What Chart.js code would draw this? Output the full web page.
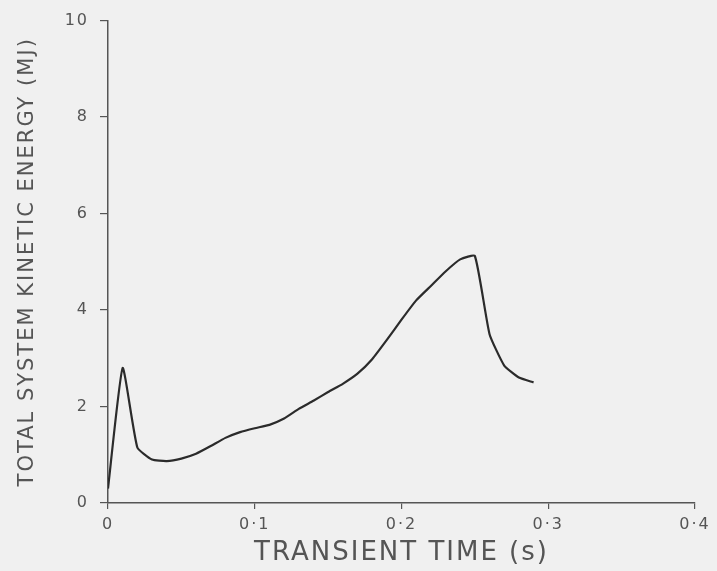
<!DOCTYPE html>
<html>
<head>
<meta charset="utf-8">
<script src="https://cdn.jsdelivr.net/npm/chart.js@4/dist/chart.umd.min.js"></script>
<style>
  html, body { margin: 0; padding: 0; background: #f0f0f0; }
  #wrap { width: 717px; height: 571px; }
</style>
</head>
<body>
<div id="wrap"><canvas id="energy"></canvas></div>
<script>
// transient time (s) and total kinetic energy (MJ)
const times = [0, 0.01, 0.02, 0.03, 0.04, 0.05, 0.06, 0.07, 0.08, 0.09,
               0.10, 0.11, 0.12, 0.13, 0.14, 0.15, 0.16, 0.17, 0.18, 0.19,
               0.20, 0.21, 0.22, 0.23, 0.24, 0.25, 0.26, 0.27, 0.28, 0.29];
const energy = [0.3, 2.8, 1.15, 0.9, 0.87, 0.92, 1.02, 1.18, 1.35, 1.47,
                1.55, 1.62, 1.75, 1.95, 2.12, 2.3, 2.47, 2.68, 2.98, 3.38,
                3.8, 4.2, 4.5, 4.8, 5.05, 5.12, 3.5, 2.85, 2.6, 2.5];
const xTickLabels = ['0', '0·1', '0·2', '0·3', '0·4'];
const yTicks = [0, 2, 4, 6, 8, 10];

const points = times.map((t, i) => ({ x: t, y: energy[i] }));
const ink = '#555';

// the old plot has widely spaced lettering
const spacedText = {
    id: 'spacedText',
    beforeDraw(chart) { chart.ctx.letterSpacing = '2px'; }
};

new Chart(document.getElementById('energy'), {
    type: 'line',
    data: {
      datasets: [{
        data: points,
        borderColor: '#2b2b2b',
        borderWidth: 2.2,
        pointRadius: 0,
        tension: 0.15,
        fill: false
      }]
    },
    options: {
        responsive: true,
        maintainAspectRatio: false,
        animation: false,
        layout: {
            padding: { left: 0, top: 20, right: 22, bottom: 0 }
        },
        plugins: {
            legend: { display: false },
            tooltip: { enabled: false }
        },
        scales: {
            x: {
                type: 'linear',
                min: 0,
                max: 0.4,
                border: { color: ink, width: 1.5 },
                grid: { drawOnChartArea: false, color: ink, tickLength: 6, lineWidth: 1.2 },
                ticks: {
                    stepSize: 0.1,
                    color: ink,
                    padding: 6,
                    font: { family: 'DejaVu Sans', size: 16 },
                    maxRotation: 0,
                    callback: (value, index) => xTickLabels[index]
                },
                title: {
                    display: true,
                    text: 'TRANSIENT TIME (s)',
                    color: ink,
                    font: { family: 'DejaVu Sans', size: 26 },
                    padding: { top: 0, bottom: 2 }
                },
                afterFit: (scale) => { scale.height = 68; }
            },
            y: {
                min: 0,
                max: 10,
                border: { color: ink, width: 1.5 },
                grid: { drawOnChartArea: false, color: ink, tickLength: 8, lineWidth: 1.2 },
                afterBuildTicks: (scale) => { scale.ticks = yTicks.map(v => ({ value: v })); },
                ticks: {
                    color: ink,
                    padding: 11,
                    font: { family: 'DejaVu Sans', size: 16 }
                },
                title: {
                    display: true,
                    text: 'TOTAL SYSTEM KINETIC ENERGY (MJ)',
                    color: ink,
                    font: { family: 'DejaVu Sans', size: 21 },
                    padding: { top: 15, bottom: 0 }
                },
                afterFit: (scale) => { scale.width = 108; }
            }
        }
    },
    plugins: [spacedText]
});
</script>
</body>
</html>
